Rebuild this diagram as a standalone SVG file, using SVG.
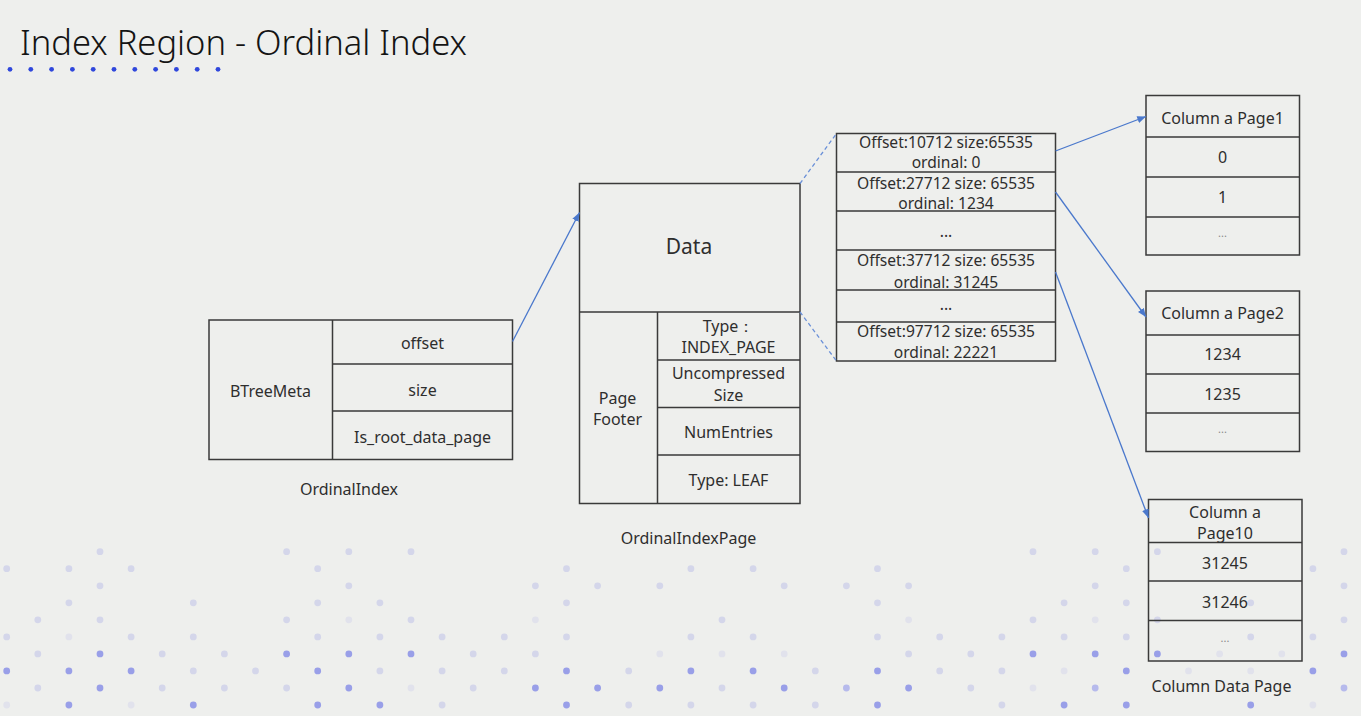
<svg xmlns="http://www.w3.org/2000/svg" width="1361" height="716" viewBox="0 0 1361 716">
  <defs>
    <style>
      .bg { fill: #eeefed; }
      .box { fill: none; stroke: #3a3a3a; stroke-width: 1.5; }
      .div { stroke: #3a3a3a; stroke-width: 1.5; fill: none; }
      .t { font-family: "Noto Sans", "Liberation Sans", sans-serif; font-size: 16px; fill: #2e2e2e; text-anchor: middle; }
      .sm { font-size: 15.6px; }
      .big { font-size: 21px; }
      .ell { font-size: 11px; fill: #8a8a8a; }
      .title { font-family: "Noto Sans", "Liberation Sans", sans-serif; font-weight: 300; font-size: 34.5px; fill: #141414; }
      .link { stroke: #4a78cc; stroke-width: 1.3; fill: none; }
      .dash { stroke: #6a90d8; stroke-width: 1.3; fill: none; stroke-dasharray: 4 3; }
      .ul { fill: #2f47dc; }
      .dots circle { r: 3.4px; }
      .d0 { fill: #e1e2ec; }
      .d1 { fill: #d4d6ea; }
      .d2 { fill: #b6baec; }
      .d3 { fill: #999fe8; }
    </style>
    <marker id="arrow" viewBox="0 0 10 8" refX="10" refY="4" markerWidth="9" markerHeight="7" markerUnits="userSpaceOnUse" orient="auto">
      <path d="M0,0 L10,4 L0,8 Z" fill="#4a78cc"/>
    </marker>
  </defs>

  <rect class="bg" x="0" y="0" width="1361" height="716"/>

  <!-- decorative dot field along the bottom -->
  <g id="dot-field" class="dots">
    <!-- row 0 -->
    <circle class="d1" cx="100.0" cy="551.7" r="3.4"/><circle class="d1" cx="286.6" cy="551.7" r="3.4"/><circle class="d1" cx="348.8" cy="551.7" r="3.4"/><circle class="d1" cx="411.0" cy="551.7" r="3.4"/><circle class="d1" cx="1033.0" cy="551.7" r="3.4"/><circle class="d1" cx="1095.2" cy="551.7" r="3.4"/><circle class="d1" cx="1157.4" cy="551.7" r="3.4"/><circle class="d1" cx="1344.0" cy="551.7" r="3.4"/>
    <!-- row 1 -->
    <circle class="d1" cx="6.7" cy="568.7" r="3.4"/><circle class="d1" cx="68.9" cy="568.7" r="3.4"/><circle class="d1" cx="131.1" cy="568.7" r="3.4"/><circle class="d1" cx="317.7" cy="568.7" r="3.4"/><circle class="d1" cx="566.5" cy="568.7" r="3.4"/><circle class="d1" cx="690.9" cy="568.7" r="3.4"/><circle class="d1" cx="753.1" cy="568.7" r="3.4"/><circle class="d1" cx="877.5" cy="568.7" r="3.4"/><circle class="d1" cx="1126.3" cy="568.7" r="3.4"/><circle class="d1" cx="1312.9" cy="568.7" r="3.4"/>
    <!-- row 2 -->
    <circle class="d1" cx="100.0" cy="585.8" r="3.4"/><circle class="d1" cx="348.8" cy="585.8" r="3.4"/><circle class="d1" cx="535.4" cy="585.8" r="3.4"/><circle class="d1" cx="597.6" cy="585.8" r="3.4"/><circle class="d1" cx="659.8" cy="585.8" r="3.4"/><circle class="d1" cx="784.2" cy="585.8" r="3.4"/><circle class="d1" cx="846.4" cy="585.8" r="3.4"/><circle class="d1" cx="908.6" cy="585.8" r="3.4"/><circle class="d1" cx="1095.2" cy="585.8" r="3.4"/><circle class="d1" cx="1344.0" cy="585.8" r="3.4"/>
    <!-- row 3 -->
    <circle class="d1" cx="68.9" cy="602.8" r="3.4"/><circle class="d1" cx="193.3" cy="602.8" r="3.4"/><circle class="d1" cx="317.7" cy="602.8" r="3.4"/><circle class="d1" cx="379.9" cy="602.8" r="3.4"/><circle class="d1" cx="566.5" cy="602.8" r="3.4"/><circle class="d1" cx="877.5" cy="602.8" r="3.4"/><circle class="d1" cx="1064.1" cy="602.8" r="3.4"/><circle class="d1" cx="1126.3" cy="602.8" r="3.4"/><circle class="d1" cx="1250.7" cy="602.8" r="3.4"/>
    <!-- row 4 -->
    <circle class="d1" cx="37.8" cy="619.8" r="3.4"/><circle class="d1" cx="100.0" cy="619.8" r="3.4"/><circle class="d1" cx="286.6" cy="619.8" r="3.4"/><circle class="d0" cx="348.8" cy="619.8" r="3.4"/><circle class="d1" cx="411.0" cy="619.8" r="3.4"/><circle class="d0" cx="535.4" cy="619.8" r="3.4"/><circle class="d1" cx="722.0" cy="619.8" r="3.4"/><circle class="d0" cx="908.6" cy="619.8" r="3.4"/><circle class="d1" cx="1033.0" cy="619.8" r="3.4"/><circle class="d0" cx="1095.2" cy="619.8" r="3.4"/><circle class="d1" cx="1157.4" cy="619.8" r="3.4"/><circle class="d1" cx="1344.0" cy="619.8" r="3.4"/>
    <!-- row 5 -->
    <circle class="d1" cx="6.7" cy="636.9" r="3.4"/><circle class="d0" cx="68.9" cy="636.9" r="3.4"/><circle class="d1" cx="131.1" cy="636.9" r="3.4"/><circle class="d1" cx="193.3" cy="636.9" r="3.4"/><circle class="d1" cx="317.7" cy="636.9" r="3.4"/><circle class="d1" cx="379.9" cy="636.9" r="3.4"/><circle class="d1" cx="442.1" cy="636.9" r="3.4"/><circle class="d1" cx="504.3" cy="636.9" r="3.4"/><circle class="d1" cx="566.5" cy="636.9" r="3.4"/><circle class="d1" cx="690.9" cy="636.9" r="3.4"/><circle class="d1" cx="753.1" cy="636.9" r="3.4"/><circle class="d1" cx="877.5" cy="636.9" r="3.4"/><circle class="d1" cx="939.7" cy="636.9" r="3.4"/><circle class="d1" cx="1001.9" cy="636.9" r="3.4"/><circle class="d1" cx="1064.1" cy="636.9" r="3.4"/><circle class="d1" cx="1126.3" cy="636.9" r="3.4"/><circle class="d1" cx="1250.7" cy="636.9" r="3.4"/><circle class="d1" cx="1312.9" cy="636.9" r="3.4"/>
    <!-- row 6 -->
    <circle class="d1" cx="37.8" cy="653.9" r="3.4"/><circle class="d3" cx="100.0" cy="653.9" r="3.4"/><circle class="d1" cx="162.2" cy="653.9" r="3.4"/><circle class="d1" cx="224.4" cy="653.9" r="3.4"/><circle class="d3" cx="286.6" cy="653.9" r="3.4"/><circle class="d3" cx="348.8" cy="653.9" r="3.4"/><circle class="d3" cx="411.0" cy="653.9" r="3.4"/><circle class="d1" cx="473.2" cy="653.9" r="3.4"/><circle class="d1" cx="535.4" cy="653.9" r="3.4"/><circle class="d0" cx="659.8" cy="653.9" r="3.4"/><circle class="d0" cx="722.0" cy="653.9" r="3.4"/><circle class="d0" cx="784.2" cy="653.9" r="3.4"/><circle class="d1" cx="908.6" cy="653.9" r="3.4"/><circle class="d1" cx="970.8" cy="653.9" r="3.4"/><circle class="d3" cx="1033.0" cy="653.9" r="3.4"/><circle class="d3" cx="1095.2" cy="653.9" r="3.4"/><circle class="d3" cx="1157.4" cy="653.9" r="3.4"/><circle class="d0" cx="1219.6" cy="653.9" r="3.4"/><circle class="d0" cx="1281.8" cy="653.9" r="3.4"/><circle class="d3" cx="1344.0" cy="653.9" r="3.4"/>
    <!-- row 7 -->
    <circle class="d3" cx="6.7" cy="670.9" r="3.4"/><circle class="d3" cx="68.9" cy="670.9" r="3.4"/><circle class="d3" cx="131.1" cy="670.9" r="3.4"/><circle class="d1" cx="193.3" cy="670.9" r="3.4"/><circle class="d1" cx="255.5" cy="670.9" r="3.4"/><circle class="d3" cx="317.7" cy="670.9" r="3.4"/><circle class="d1" cx="379.9" cy="670.9" r="3.4"/><circle class="d1" cx="442.1" cy="670.9" r="3.4"/><circle class="d1" cx="504.3" cy="670.9" r="3.4"/><circle class="d3" cx="566.5" cy="670.9" r="3.4"/><circle class="d1" cx="628.7" cy="670.9" r="3.4"/><circle class="d3" cx="690.9" cy="670.9" r="3.4"/><circle class="d3" cx="753.1" cy="670.9" r="3.4"/><circle class="d1" cx="815.3" cy="670.9" r="3.4"/><circle class="d3" cx="877.5" cy="670.9" r="3.4"/><circle class="d1" cx="939.7" cy="670.9" r="3.4"/><circle class="d1" cx="1001.9" cy="670.9" r="3.4"/><circle class="d0" cx="1064.1" cy="670.9" r="3.4"/><circle class="d3" cx="1126.3" cy="670.9" r="3.4"/><circle class="d0" cx="1188.5" cy="670.9" r="3.4"/><circle class="d0" cx="1250.7" cy="670.9" r="3.4"/><circle class="d3" cx="1312.9" cy="670.9" r="3.4"/>
    <!-- row 8 -->
    <circle class="d1" cx="37.8" cy="688.0" r="3.4"/><circle class="d3" cx="100.0" cy="688.0" r="3.4"/><circle class="d1" cx="162.2" cy="688.0" r="3.4"/><circle class="d1" cx="224.4" cy="688.0" r="3.4"/><circle class="d1" cx="286.6" cy="688.0" r="3.4"/><circle class="d3" cx="348.8" cy="688.0" r="3.4"/><circle class="d0" cx="411.0" cy="688.0" r="3.4"/><circle class="d1" cx="473.2" cy="688.0" r="3.4"/><circle class="d3" cx="535.4" cy="688.0" r="3.4"/><circle class="d3" cx="597.6" cy="688.0" r="3.4"/><circle class="d3" cx="659.8" cy="688.0" r="3.4"/><circle class="d1" cx="722.0" cy="688.0" r="3.4"/><circle class="d3" cx="784.2" cy="688.0" r="3.4"/><circle class="d2" cx="846.4" cy="688.0" r="3.4"/><circle class="d3" cx="908.6" cy="688.0" r="3.4"/><circle class="d1" cx="970.8" cy="688.0" r="3.4"/><circle class="d0" cx="1033.0" cy="688.0" r="3.4"/><circle class="d2" cx="1095.2" cy="688.0" r="3.4"/><circle class="d2" cx="1344.0" cy="688.0" r="3.4"/>
    <!-- row 9 -->
    <circle class="d0" cx="6.7" cy="705.0" r="3.4"/><circle class="d3" cx="68.9" cy="705.0" r="3.4"/><circle class="d0" cx="131.1" cy="705.0" r="3.4"/><circle class="d3" cx="193.3" cy="705.0" r="3.4"/><circle class="d3" cx="317.7" cy="705.0" r="3.4"/><circle class="d3" cx="379.9" cy="705.0" r="3.4"/><circle class="d1" cx="442.1" cy="705.0" r="3.4"/><circle class="d3" cx="566.5" cy="705.0" r="3.4"/><circle class="d1" cx="628.7" cy="705.0" r="3.4"/><circle class="d1" cx="690.9" cy="705.0" r="3.4"/><circle class="d1" cx="753.1" cy="705.0" r="3.4"/><circle class="d1" cx="815.3" cy="705.0" r="3.4"/><circle class="d3" cx="877.5" cy="705.0" r="3.4"/><circle class="d1" cx="1001.9" cy="705.0" r="3.4"/><circle class="d3" cx="1064.1" cy="705.0" r="3.4"/><circle class="d3" cx="1126.3" cy="705.0" r="3.4"/><circle class="d3" cx="1250.7" cy="705.0" r="3.4"/><circle class="d0" cx="1312.9" cy="705.0" r="3.4"/>
  </g>

  <!-- heading with dotted underline -->
  <g id="title">
    <text class="title" x="20" y="55">Index Region - Ordinal Index</text>
    <g class="ul">
      <circle cx="10" cy="69.3" r="2.4"/><circle cx="30.8" cy="69.3" r="2.4"/><circle cx="51.6" cy="69.3" r="2.4"/><circle cx="72.4" cy="69.3" r="2.4"/><circle cx="93.2" cy="69.3" r="2.4"/><circle cx="114" cy="69.3" r="2.4"/><circle cx="134.8" cy="69.3" r="2.4"/><circle cx="155.6" cy="69.3" r="2.4"/><circle cx="176.4" cy="69.3" r="2.4"/><circle cx="197.2" cy="69.3" r="2.4"/><circle cx="218" cy="69.3" r="2.4"/>
    </g>
  </g>

  <!-- OrdinalIndex -->
  <g id="ordinal-index">
    <rect class="box" x="209" y="320" width="303.5" height="139.5"/>
    <path class="div" d="M332.5,320 V459.5 M332.5,364 H512.5 M332.5,411 H512.5"/>
    <text class="t" x="270.5" y="396.5">BTreeMeta</text>
    <text class="t" x="422.5" y="348.5">offset</text>
    <text class="t" x="422.5" y="395.5">size</text>
    <text class="t" x="422.5" y="442.5">Is_root_data_page</text>
    <text class="t" x="349" y="494.5">OrdinalIndex</text>
  </g>

  <!-- OrdinalIndexPage -->
  <g id="ordinal-index-page">
    <rect class="box" x="579.5" y="183.5" width="220.5" height="320"/>
    <path class="div" d="M579.5,312 H800 M657.5,312 V503.5 M657.5,360 H800 M657.5,407.5 H800 M657.5,455 H800"/>
    <text class="t big" x="689" y="254">Data</text>
    <text class="t" x="617.5" y="403.5">Page</text>
    <text class="t" x="617.5" y="424.5">Footer</text>
    <text class="t" x="728.5" y="332">Type：</text>
    <text class="t" x="728.5" y="353">INDEX_PAGE</text>
    <text class="t" x="728.5" y="379">Uncompressed</text>
    <text class="t" x="728.5" y="401">Size</text>
    <text class="t" x="728.5" y="438">NumEntries</text>
    <text class="t" x="728.5" y="486">Type: LEAF</text>
    <text class="t" x="688.5" y="544">OrdinalIndexPage</text>
  </g>

  <!-- entries of the data area -->
  <g id="offset-table">
    <rect class="box" x="836.5" y="133.5" width="219" height="227.5"/>
    <path class="div" d="M836.5,172 H1055.5 M836.5,211 H1055.5 M836.5,250 H1055.5 M836.5,290 H1055.5 M836.5,322 H1055.5"/>
    <text class="t sm" x="946" y="147.5">Offset:10712 size:65535</text>
    <text class="t sm" x="946" y="167.5">ordinal: 0</text>
    <text class="t sm" x="946" y="188.5">Offset:27712 size: 65535</text>
    <text class="t sm" x="946" y="209">ordinal: 1234</text>
    <text class="t sm" x="946" y="237">...</text>
    <text class="t sm" x="946" y="265.5">Offset:37712 size: 65535</text>
    <text class="t sm" x="946" y="287.5">ordinal: 31245</text>
    <text class="t sm" x="946" y="310">...</text>
    <text class="t sm" x="946" y="336.5">Offset:97712 size: 65535</text>
    <text class="t sm" x="946" y="358">ordinal: 22221</text>
  </g>

  <!-- column data pages -->
  <g id="column-page-1">
    <rect class="box" x="1146" y="95.5" width="153.5" height="159.5"/>
    <path class="div" d="M1146,137 H1299.5 M1146,177 H1299.5 M1146,217 H1299.5"/>
    <text class="t" x="1222.5" y="123.5">Column a Page1</text>
    <text class="t" x="1222.5" y="162.5">0</text>
    <text class="t" x="1222.5" y="202.5">1</text>
    <text class="t ell" x="1222.5" y="237">...</text>
  </g>

  <g id="column-page-2">
    <rect class="box" x="1146" y="291" width="153.5" height="160.5"/>
    <path class="div" d="M1146,335 H1299.5 M1146,374 H1299.5 M1146,413 H1299.5"/>
    <text class="t" x="1222.5" y="318.5">Column a Page2</text>
    <text class="t" x="1222.5" y="359.5">1234</text>
    <text class="t" x="1222.5" y="399.5">1235</text>
    <text class="t ell" x="1222.5" y="433">...</text>
  </g>

  <g id="column-page-10">
    <rect class="box" x="1148.5" y="499.5" width="153.5" height="161.5"/>
    <path class="div" d="M1148.5,542.5 H1302 M1148.5,581 H1302 M1148.5,620.5 H1302"/>
    <text class="t" x="1225" y="517.5">Column a</text>
    <text class="t" x="1225" y="538.5">Page10</text>
    <text class="t" x="1225" y="568.5">31245</text>
    <text class="t" x="1225" y="608">31246</text>
    <text class="t ell" x="1225" y="642">...</text>
    <text class="t" x="1221.5" y="692">Column Data Page</text>
  </g>

  <!-- connectors -->
  <g id="connectors">
    <path class="link" d="M512.5,341.5 L579.5,212.5" marker-end="url(#arrow)"/>
    <path class="dash" d="M800,183.5 L836.5,133.5"/>
    <path class="dash" d="M800,312 L836.5,361"/>
    <path class="link" d="M1055.5,151 L1146,116.5" marker-end="url(#arrow)"/>
    <path class="link" d="M1055.5,192 L1146,317" marker-end="url(#arrow)"/>
    <path class="link" d="M1055.5,272 L1148.5,518" marker-end="url(#arrow)"/>
  </g>
</svg>
